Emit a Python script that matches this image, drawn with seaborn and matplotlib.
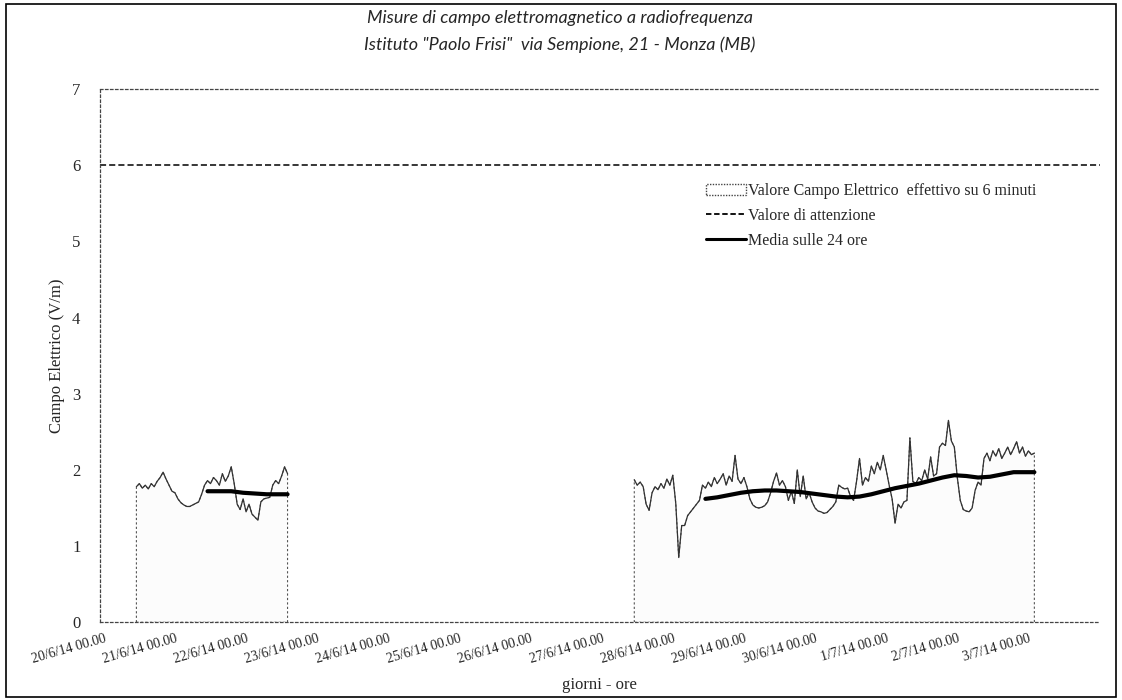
import pandas as pd
import matplotlib
matplotlib.use("Agg")
import matplotlib.pyplot as plt
from matplotlib.patches import Patch, Rectangle
from matplotlib.lines import Line2D
import seaborn as sns

# --- data (hourly samples of the 6-minute series) ---
left_start = "2014-06-20 11:00"
left_values = [1.78, 1.82, 1.76, 1.80, 1.75, 1.82, 1.78, 1.85, 1.90, 1.97,
               1.88, 1.80, 1.72, 1.70, 1.62, 1.57, 1.54, 1.52, 1.52, 1.54,
               1.56, 1.58, 1.68, 1.80, 1.86, 1.82, 1.90, 1.86, 1.80, 1.95,
               1.85, 1.92, 2.04, 1.82, 1.55, 1.48, 1.62, 1.45, 1.55, 1.42,
               1.38, 1.34, 1.58, 1.62, 1.63, 1.64, 1.80, 1.86, 1.82, 1.92,
               2.04, 1.95]

right_start = "2014-06-27 11:00"
right_values = [1.87, 1.80, 1.84, 1.78, 1.55, 1.47, 1.70, 1.78, 1.74, 1.82,
                1.76, 1.88, 1.80, 1.93, 1.56, 0.85, 1.27, 1.27, 1.40, 1.45,
                1.50, 1.55, 1.60, 1.80, 1.76, 1.84, 1.78, 1.90, 1.82, 1.88,
                1.95, 1.80, 1.92, 1.85, 2.19, 1.88, 1.82, 1.90, 1.78, 1.62,
                1.54, 1.51, 1.50, 1.51, 1.53, 1.58, 1.70, 1.85, 1.96, 1.80,
                1.86, 1.78, 1.60, 1.72, 1.56, 2.00, 1.65, 1.92, 1.62, 1.70,
                1.58, 1.50, 1.46, 1.45, 1.43, 1.44, 1.48, 1.52, 1.58, 1.80,
                1.77, 1.75, 1.76, 1.65, 1.60, 1.85, 2.15, 1.80, 1.90, 1.85,
                2.05, 1.95, 2.10, 2.00, 2.19, 2.00, 1.80, 1.62, 1.30, 1.55,
                1.50, 1.58, 1.60, 2.42, 1.85, 1.82, 1.90, 1.86, 2.00, 1.88,
                2.17, 1.92, 1.95, 2.30, 2.35, 2.32, 2.65, 2.38, 2.30, 1.90,
                1.60, 1.48, 1.46, 1.45, 1.50, 1.73, 1.84, 1.80, 2.15, 2.22,
                2.12, 2.25, 2.18, 2.28, 2.15, 2.22, 2.30, 2.20, 2.28, 2.37,
                2.22, 2.30, 2.18, 2.25, 2.20, 2.22]

# 24-hour mean, one value every 4 hours
left_mean_start = "2014-06-21 11:00"
left_mean = [1.72, 1.72, 1.72, 1.70, 1.69, 1.68, 1.68, 1.68]
right_mean_start = "2014-06-28 11:00"
right_mean = [1.62, 1.64, 1.67, 1.70, 1.72, 1.73, 1.73, 1.72, 1.71, 1.69,
              1.67, 1.65, 1.64, 1.65, 1.68, 1.72, 1.76, 1.79, 1.82, 1.86,
              1.90, 1.93, 1.92, 1.90, 1.91, 1.94, 1.97, 1.97, 1.97]

attention_value = 6
tick_days = pd.date_range("2014-06-20", "2014-07-03", freq="D")
tick_labels = [f"{d.day}/{d.month}/14 00.00" for d in tick_days]

title_lines = ["Misure di campo elettromagnetico a radiofrequenza",
               'Istituto "Paolo Frisi"  via Sempione, 21 - Monza (MB)']

# --- build frames ---
left = pd.DataFrame({"t": pd.date_range(left_start, periods=len(left_values), freq="h"),
                     "v": left_values})
right = pd.DataFrame({"t": pd.date_range(right_start, periods=len(right_values), freq="h"),
                      "v": right_values})
lmean = pd.DataFrame({"t": pd.date_range(left_mean_start, periods=len(left_mean), freq="4h"),
                      "v": left_mean})
rmean = pd.DataFrame({"t": pd.date_range(right_mean_start, periods=len(right_mean), freq="4h"),
                      "v": right_mean})
# last mean point sits at the end of the data
lmean.loc[lmean.index[-1], "t"] = left["t"].iloc[-1]
rmean.loc[rmean.index[-1], "t"] = right["t"].iloc[-1]

sns.set_theme(style="white")
plt.rcParams["font.family"] = ["Liberation Serif", "DejaVu Serif"]

fig = plt.figure(figsize=(11.22, 7.0), dpi=100)
ax = fig.add_axes([0.089, 0.111, 0.891, 0.762])

# area of the 6-minute values
for seg in (left, right):
    ax.fill_between(seg["t"], seg["v"], 0, facecolor="#fcfcfc",
                    edgecolor="#555555", linewidth=0.8, linestyle=(0, (2, 2)))
    sns.lineplot(data=seg, x="t", y="v", ax=ax, color="#333333", linewidth=0.9)

# 24h mean
for seg in (lmean, rmean):
    sns.lineplot(data=seg, x="t", y="v", ax=ax, color="black", linewidth=3.0)

ax.axhline(attention_value, color="black", linestyle=(0, (4, 2)), linewidth=1.1)

ax.set_xlim(pd.Timestamp("2014-06-19 22:40"), pd.Timestamp("2014-07-04"))
ax.set_ylim(0, 7)
ax.set_yticks(range(0, 8))
ax.set_xticks(tick_days)
ax.set_xticklabels(tick_labels, rotation=16, ha="right", rotation_mode="anchor",
                   fontsize=10)
ax.tick_params(axis="y", labelsize=12, length=0, pad=14)
ax.tick_params(axis="x", length=3, width=0.8, color="#666666", pad=4)

ax.set_xlabel("giorni - ore", fontsize=12, labelpad=8)
ax.set_ylabel("Campo Elettrico (V/m)", fontsize=12, labelpad=5)

for side in ("left", "top", "bottom"):
    ax.spines[side].set_linestyle((0, (2, 2)))
    ax.spines[side].set_color("#444444")
    ax.spines[side].set_linewidth(0.9)
ax.spines["right"].set_visible(False)

handles = [Patch(facecolor="white", edgecolor="#444444", linestyle=(0, (1, 1)), linewidth=1.0),
           Line2D([], [], color="black", linestyle=(0, (3, 1.5)), linewidth=1.3),
           Line2D([], [], color="black", linewidth=2.2)]
labels = ["Valore Campo Elettrico  effettivo su 6 minuti",
          "Valore di attenzione",
          "Media sulle 24 ore"]
ax.legend(handles, labels, loc="upper left", bbox_to_anchor=(0.598, 0.838),
          frameon=False, fontsize=11.5, handlelength=2.5, handletextpad=0.15,
          labelspacing=0.55, borderpad=0)

fig.text(0.499, 0.974, title_lines[0], ha="center", va="center",
         family="Lato", style="italic", fontsize=13)
fig.text(0.499, 0.936, title_lines[1], ha="center", va="center",
         family="Lato", style="italic", fontsize=13)

fig.add_artist(Rectangle((0.005, 0.004), 0.99, 0.99, transform=fig.transFigure,
                         fill=False, edgecolor="black", linewidth=1.2))

fig.savefig("out.png", dpi=100)
